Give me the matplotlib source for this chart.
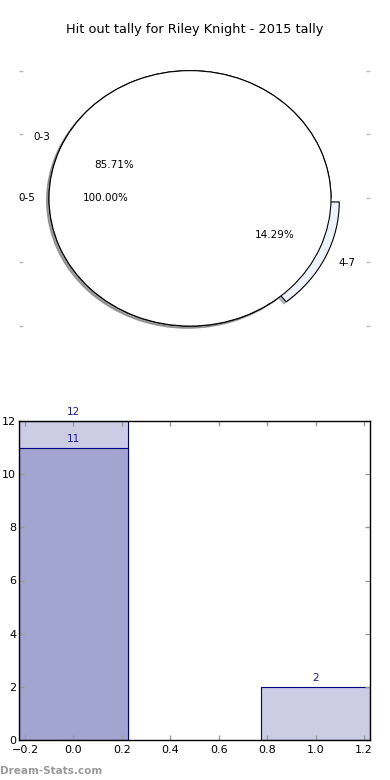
import matplotlib
matplotlib.use("Agg")
import matplotlib.pyplot as plt

# Data
title = "Hit out tally for Riley Knight - 2015 tally"
outer_labels = ["0-5"]
outer_values = [7]
inner_labels = ["0-3", "4-7"]
inner_values = [6, 1]
bar_x = [0, 1]
bar_totals = [12, 2]
bar_sub_x = [0]
bar_sub = [11]

fig = plt.figure(figsize=(3.9, 7.8), dpi=100)

shadow = {'ox': -0.012, 'oy': -0.012, 'shade': 0.5}

# Pie axes
ax1 = fig.add_axes([19/390, (780-358)/780, 351/390, (358-38.7)/780])
ax1.pie(inner_values, labels=inner_labels, autopct='%1.2f%%', shadow=shadow,
        explode=(0, 0.065), colors=['white', '#eef2fd'],
        wedgeprops=dict(edgecolor='black', linewidth=0.8),
        textprops=dict(fontsize=7.5))
ax1.pie(outer_values, labels=outer_labels, autopct='%1.2f%%', shadow=shadow,
        colors=['white'],
        wedgeprops=dict(edgecolor='black', linewidth=0.8),
        textprops=dict(fontsize=7.5))
ax1.set_aspect('auto')
ax1.set_xlim(-171/141, 180/141)
ax1.set_ylim(-1.25, 1.25)
ax1.set_frame_on(False)
ax1.set_xticks([])
ax1.set_yticks([-1, -0.5, 0, 0.5, 1])
ax1.set_yticklabels([])
ax1.tick_params(axis='y', which='both', direction='in', left=True, right=True,
                color='#bbbbbb', length=3, width=1)
ax1.set_title(title, fontsize=9.3, pad=4)

# Bar axes
ax2 = fig.add_axes([19/390, 40/780, 351/390, 319/780])
ax2.bar(bar_x, bar_totals, width=0.45, color='#cccce5', edgecolor='#000080', linewidth=0.8)
ax2.bar(bar_sub_x, bar_sub, width=0.45, color='#a3a5d1', edgecolor='#000080', linewidth=0.8)
for x, h in zip(bar_x, bar_totals):
    ax2.text(x, h + 0.15, str(h), ha='center', va='bottom', fontsize=7.5, color='#1a1a8c')
for x, h in zip(bar_sub_x, bar_sub):
    ax2.text(x, h + 0.15, str(h), ha='center', va='bottom', fontsize=7.5, color='#1a1a8c')
ax2.set_xlim(-0.225, 1.225)
ax2.set_ylim(0, 12)
ax2.set_xticks([-0.2, 0.0, 0.2, 0.4, 0.6, 0.8, 1.0, 1.2])
ax2.set_yticks([0, 2, 4, 6, 8, 10, 12])
ax2.tick_params(direction='in', top=True, right=True, color='#999999',
                length=3.5, width=1, labelsize=8)
ax2.tick_params(axis='y', pad=2)
for s in ax2.spines.values():
    s.set_linewidth(1)

fig.text(0.0, 9/780, "Dream-Stats.com", fontsize=7.5, color='#999999',
         fontweight='bold', ha='left', va='center')

fig.savefig("out.png", dpi=100)
